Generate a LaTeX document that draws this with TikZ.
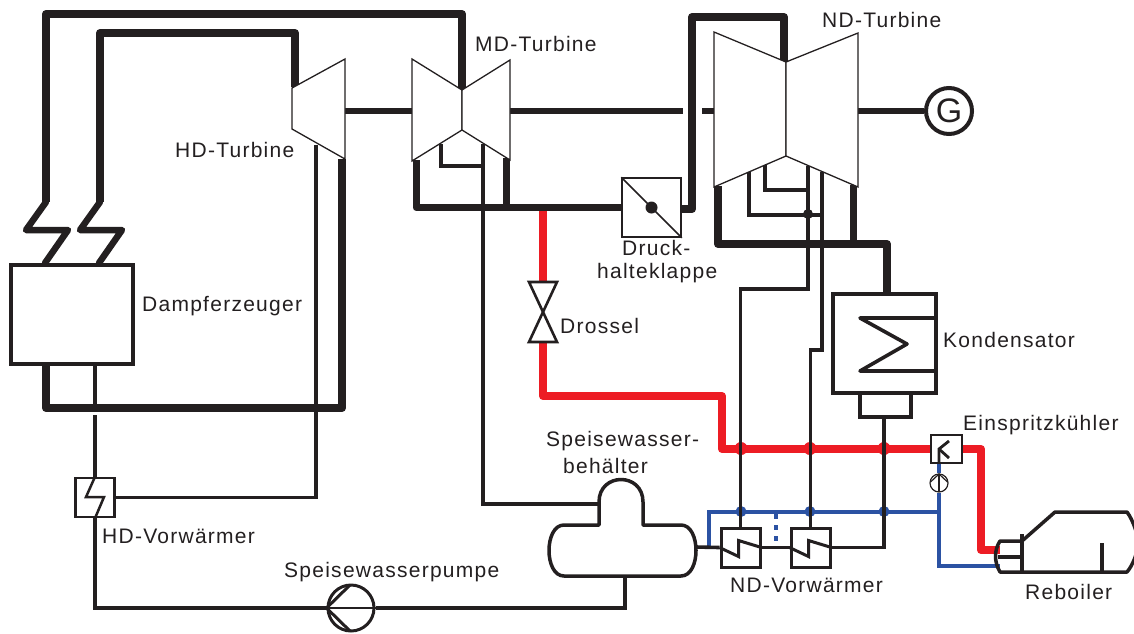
\documentclass[tikz,border=0pt]{standalone}
\usepackage{fontspec}
\setmainfont{Liberation Sans}[LetterSpace=6]
\definecolor{schwarz}{HTML}{231F20}
\definecolor{rot}{HTML}{ED1C24}
\definecolor{blau}{HTML}{2B52A3}
\tikzset{
  dickrohr/.style={draw=schwarz,line width=8pt,line join=round},
  zickzack/.style={draw=schwarz,line width=6.5pt,line join=round,line cap=round},
  duennrohr/.style={draw=schwarz,line width=3.6pt,line join=miter},
  rotrohr/.style={draw=rot,line width=8pt,line join=round},
  blaurohr/.style={draw=blau,line width=3.8pt,line join=miter},
  welle/.style={draw=schwarz,line width=5.5pt},
  turbine/.style={draw=schwarz,fill=white,line width=1.3pt,line join=miter},
  kasten/.style={draw=schwarz,fill=white,line width=3pt,inner sep=0pt,rectangle},
  geraet/.style={draw=schwarz,line width=3.5pt,line join=round},
  beschriftung/.style={text=schwarz,inner sep=0pt,anchor=west,font=\fontsize{21}{24}\selectfont},
  buckel/.style={circle,inner sep=0pt,minimum size=13pt}
}
\begin{document}
\begin{tikzpicture}[x=1pt,y=-1pt]
        \useasboundingbox (0,0) rectangle (1134,633);
        % Geraete
        \node[kasten,line width=4pt,minimum width=122pt,minimum height=99pt] (kessel) at (72,314.5) {};
        \node[kasten,minimum width=39pt,minimum height=39pt,line width=2.5pt] (hdvw) at (95,497.5) {};
        \node[kasten,minimum width=59pt,minimum height=59pt,line width=1.5pt] (klappe) at (651.5,207.5) {};
        \node[kasten,minimum width=103pt,minimum height=99pt,line width=3.5pt] (kond) at (884.5,343.5) {};
        \node[kasten,minimum width=51pt,minimum height=24pt,line width=3.5pt] (hotwell) at (885.5,405) {};
        \node[kasten,minimum width=39pt,minimum height=39pt] (ndvw1) at (740.5,547.5) {};
        \node[kasten,minimum width=39pt,minimum height=39pt] (ndvw2) at (810.5,547.5) {};
        \node[kasten,minimum width=31pt,minimum height=28pt,line width=2.5pt] (einsp) at (946.5,449) {};
        \node[circle,draw=schwarz,fill=white,line width=3pt,inner sep=0pt,minimum size=46pt] (pumpe) at (351,608) {};
        \node[circle,draw=schwarz,fill=white,line width=1.2pt,inner sep=0pt,minimum size=18pt] (kpumpe) at (939,483) {};
        \node[circle,draw=schwarz,line width=4pt,inner sep=0pt,minimum size=46pt,text=schwarz,font=\fontsize{34}{34}\selectfont] (gen) at (949,111) {G};
        % Anschluesse
        \coordinate (hd-ein) at (295,87);
        \coordinate (hd-aus) at (342,159);
        \coordinate (hd-anz) at (316,145);
        \coordinate (md-ein) at (462,91);
        \coordinate (md-aus1) at (416,160);
        \coordinate (md-aus2) at (506,158);
        \coordinate (md-anz1) at (441,144);
        \coordinate (md-anz2) at (483,144);
        \coordinate (nd-ein) at (784,62);
        \coordinate (nd-aus1) at (718,186);
        \coordinate (nd-aus2) at (853,185);
        \coordinate (nd-anz1) at (749,172);
        \coordinate (nd-anz2) at (765,165);
        \coordinate (nd-anz3) at (808,166);
        \coordinate (nd-anz4) at (822,172);
        \coordinate (oben1) at (462,14);
        \coordinate (oben2) at (295,33);
        \coordinate (oben3) at (784,17);
        \coordinate (unten) at (342,408);
        \coordinate (sammel) at (416,209);
        \coordinate (nd-sammel) at (887,244);
        \coordinate (kondein) at (887,293);
        \coordinate (zz1) at (46,202);
        \coordinate (zz2) at (100,202);
        \coordinate (kn-md) at (692,209);
        \coordinate (kn-drossel) at (722,396);
        \coordinate (kn-rot) at (981,449);
        \coordinate (reb-rot) at (1000,550);
        \coordinate (reb-blau) at (1000,566);
        \coordinate (ventil-o) at (543,282);
        \coordinate (ventil-u) at (543,342);
        \coordinate (ro-ab) at (543,209);
        \coordinate (blau-o) at (939,512);
        \coordinate (blau-l) at (709,547);
        \coordinate (dot-o) at (776,514);
        \coordinate (dot-u) at (776,541);
        \coordinate (behaelter-d) at (599,504);
        \coordinate (behaelter-r) at (696,547);
        \coordinate (behaelter-u) at (625,576);
        % rote Leitung
        \draw[rotrohr] (ro-ab) -- (ventil-o);
        \draw[rotrohr] (ventil-u) |- (kn-drossel) |- (einsp);
        \draw[rotrohr] (einsp) -| (kn-rot) |- (reb-rot);
        % blaue Leitung
        \draw[blaurohr] (blau-l) |- (blau-o);
        \draw[blaurohr] (kpumpe) -- (einsp.south -| kpumpe);
        \draw[blaurohr] (kpumpe) |- (reb-blau);
        \draw[blaurohr,dash pattern=on 5pt off 6pt] (dot-o) -- (dot-u);
        \foreach \n/\x in {a/741,b/810,c/884} {
          \node[buckel,fill=rot] (rb\n) at (\x,448.5) {};
          \node[buckel,fill=blau,minimum size=11pt] (bb\n) at (\x,511.5) {};
        }
        % dicke Leitungen
        \draw[zickzack] (kessel.north -| 45,0) -- ++(23,-33) -- ++(-42,0) -- (zz1);
        \draw[zickzack] (kessel.north -| 99,0) -- ++(23,-33) -- ++(-42,0) -- (zz2);
        \draw[dickrohr] (zz1) |- (oben1) -- (md-ein);
        \draw[dickrohr] (zz2) |- (oben2) -- (hd-ein);
        \draw[dickrohr] (kessel.south -| zz1) |- (unten) -- (hd-aus);
        \draw[dickrohr,line width=7pt] (md-aus1) |- (klappe);
        \draw[dickrohr,line width=7pt] (md-aus2) -- (md-aus2 |- sammel);
        \draw[dickrohr] (klappe.east |- kn-md) -| (oben3 -| kn-md) -| (nd-ein);
        \draw[dickrohr] (nd-aus1) |- (nd-sammel) -- (kondein);
        \draw[dickrohr,line width=7pt] (nd-aus2) -- (nd-aus2 |- nd-sammel);
        % Welle
        \draw[welle] (345,111) -- (412,111);
        \draw[welle] (510,111) -- (683,111);
        \draw[welle] (702,111) -- (714,111);
        \draw[welle] (858,111) -- (gen);
        % duenne Leitungen
        \draw[duennrohr] (kessel.south -| hdvw) -- ++(0,38);
        \draw[duennrohr] (hdvw |- 0,415) -- (hdvw);
        \draw[duennrohr] (hdvw.east) -| (hd-anz);
        \draw[duennrohr] (hdvw) |- (pumpe);
        \draw[duennrohr] (pumpe) -| (behaelter-u);
        \draw[duennrohr] (md-anz1) |- (md-anz2 |- 0,166);
        \draw[duennrohr] (md-anz2) |- (behaelter-d);
        \draw[duennrohr] (nd-anz1) |- (nd-anz4 |- 0,215);
        \draw[duennrohr] (nd-anz2) |- (nd-anz3 |- 0,190);
        \draw[duennrohr] (nd-anz3) -- (nd-anz3 |- 0,289) -| (ndvw1.north);
        \draw[duennrohr] (nd-anz4) -- (nd-anz4 |- 0,350) -| (ndvw2.north);
        \draw[duennrohr] (hotwell.south -| 884,0) |- (ndvw2.east);
        \draw[duennrohr] (behaelter-r) -- (ndvw1.west);
        \draw[duennrohr] (ndvw1.east) -- (ndvw2.west);
        \node[buckel,fill=schwarz,minimum size=10pt] (sb) at (808,214) {};
        % Turbinen
        \draw[turbine] (292,88) -- (345,59) -- (345,159) -- (292,129) -- cycle;
        \draw[turbine] (412,59) -- (462,90) -- (462,130) -- (412,161) -- cycle;
        \draw[turbine] (510,60) -- (462,90) -- (462,130) -- (510,160) -- cycle;
        \draw[turbine] (714,32) -- (786,62) -- (786,156) -- (714,187) -- cycle;
        \draw[turbine] (858,33) -- (786,62) -- (786,156) -- (858,187) -- cycle;
        % Symbole
        \draw[line width=2.5pt,draw=schwarz,line join=miter] (hdvw.north) -- (86,497) -- (104,497) -- (hdvw.south);
        \draw[line width=1.6pt,draw=schwarz] (klappe.north west) -- (klappe.south east);
        \fill[schwarz] (klappe.center) circle (6);
        \draw[line width=3.6pt,draw=schwarz,line join=round] (kond.east |- 0,318) -- (860,318) -- (907,344) -- (860,371) -- (kond.east |- 0,371);
        \foreach \v in {ndvw1,ndvw2} {
          \draw[line width=3pt,draw=schwarz,line join=miter] (\v.west) -- ++(19,9) -- ++(0,-16) -- (\v.east);
        }
        \draw[line width=2.8pt,draw=schwarz] (939,463) -- (939,449) -- (949,441);
        \draw[line width=2.8pt,draw=schwarz] (939,449) -- (949,458);
        \draw[line width=1.2pt,draw=schwarz] (930.5,482) -- (939,474) -- (947.5,482);
        \draw[line width=1.2pt,draw=schwarz] (939,474) -- (939,492);
        \draw[line width=1.3pt,draw=schwarz] (pumpe.west) -- (pumpe.east);
        \draw[line width=3pt,draw=schwarz,line join=miter] (350,585) -- (pumpe.west) -- (350,631);
        % Drossel
        \draw[geraet,line width=2.6pt,fill=white,line join=miter] (529,282) -- (557,282) -- (529,342) -- (557,342) -- cycle;
        % Behaelter
        \draw[geraet,fill=white] (599,525) -- (599,502) .. controls (599,472) and (643,472) .. (643,502)
          -- (643,525) -- (681,525) .. controls (701,525) and (701,576) .. (681,576)
          -- (564,576) .. controls (544,576) and (544,525) .. (564,525) -- cycle;
        % Reboiler
        \draw[geraet] (1022,541) -- (1055,512) -- (1127,512) .. controls (1133,520) and (1138,535) .. (1138,542)
          .. controls (1138,552) and (1133,565) .. (1127,572) -- (1000,572)
          .. controls (994,562) and (994,550) .. (1000,541) -- (1022,541);
        \draw[geraet] (1022,534) -- (1022,572);
        \draw[geraet] (998,557) -- (1022,557);
        \draw[geraet] (1102,543) -- (1102,572);
        % Beschriftung
        \node[beschriftung] (hd-text) at (175,150) {HD-Turbine};
        \node[beschriftung] (md-text) at (475,44) {MD-Turbine};
        \node[beschriftung] (nd-text) at (822,20) {ND-Turbine};
        \node[beschriftung] (kessel-text) at (142,306) {Dampferzeuger};
        \node[beschriftung] (klappe-text1) at (622,248) {Druck-};
        \node[beschriftung] (klappe-text2) at (597,273) {halteklappe};
        \node[beschriftung] (drossel-text) at (560,326) {Drossel};
        \node[beschriftung] (kond-text) at (943,340) {Kondensator};
        \node[beschriftung] (einsp-text) at (963,425) {Einspritzkühler};
        \node[beschriftung] (beh-text1) at (546,441) {Speisewasser-};
        \node[beschriftung] (beh-text2) at (563,466) {behälter};
        \node[beschriftung] (hdvw-text) at (102,536) {HD-Vorwärmer};
        \node[beschriftung] (pumpe-text) at (284,572) {Speisewasserpumpe};
        \node[beschriftung] (ndvw-text) at (730,585) {ND-Vorwärmer};
        \node[beschriftung] (reb-text) at (1025,592) {Reboiler};
      \end{tikzpicture}
\end{document}
